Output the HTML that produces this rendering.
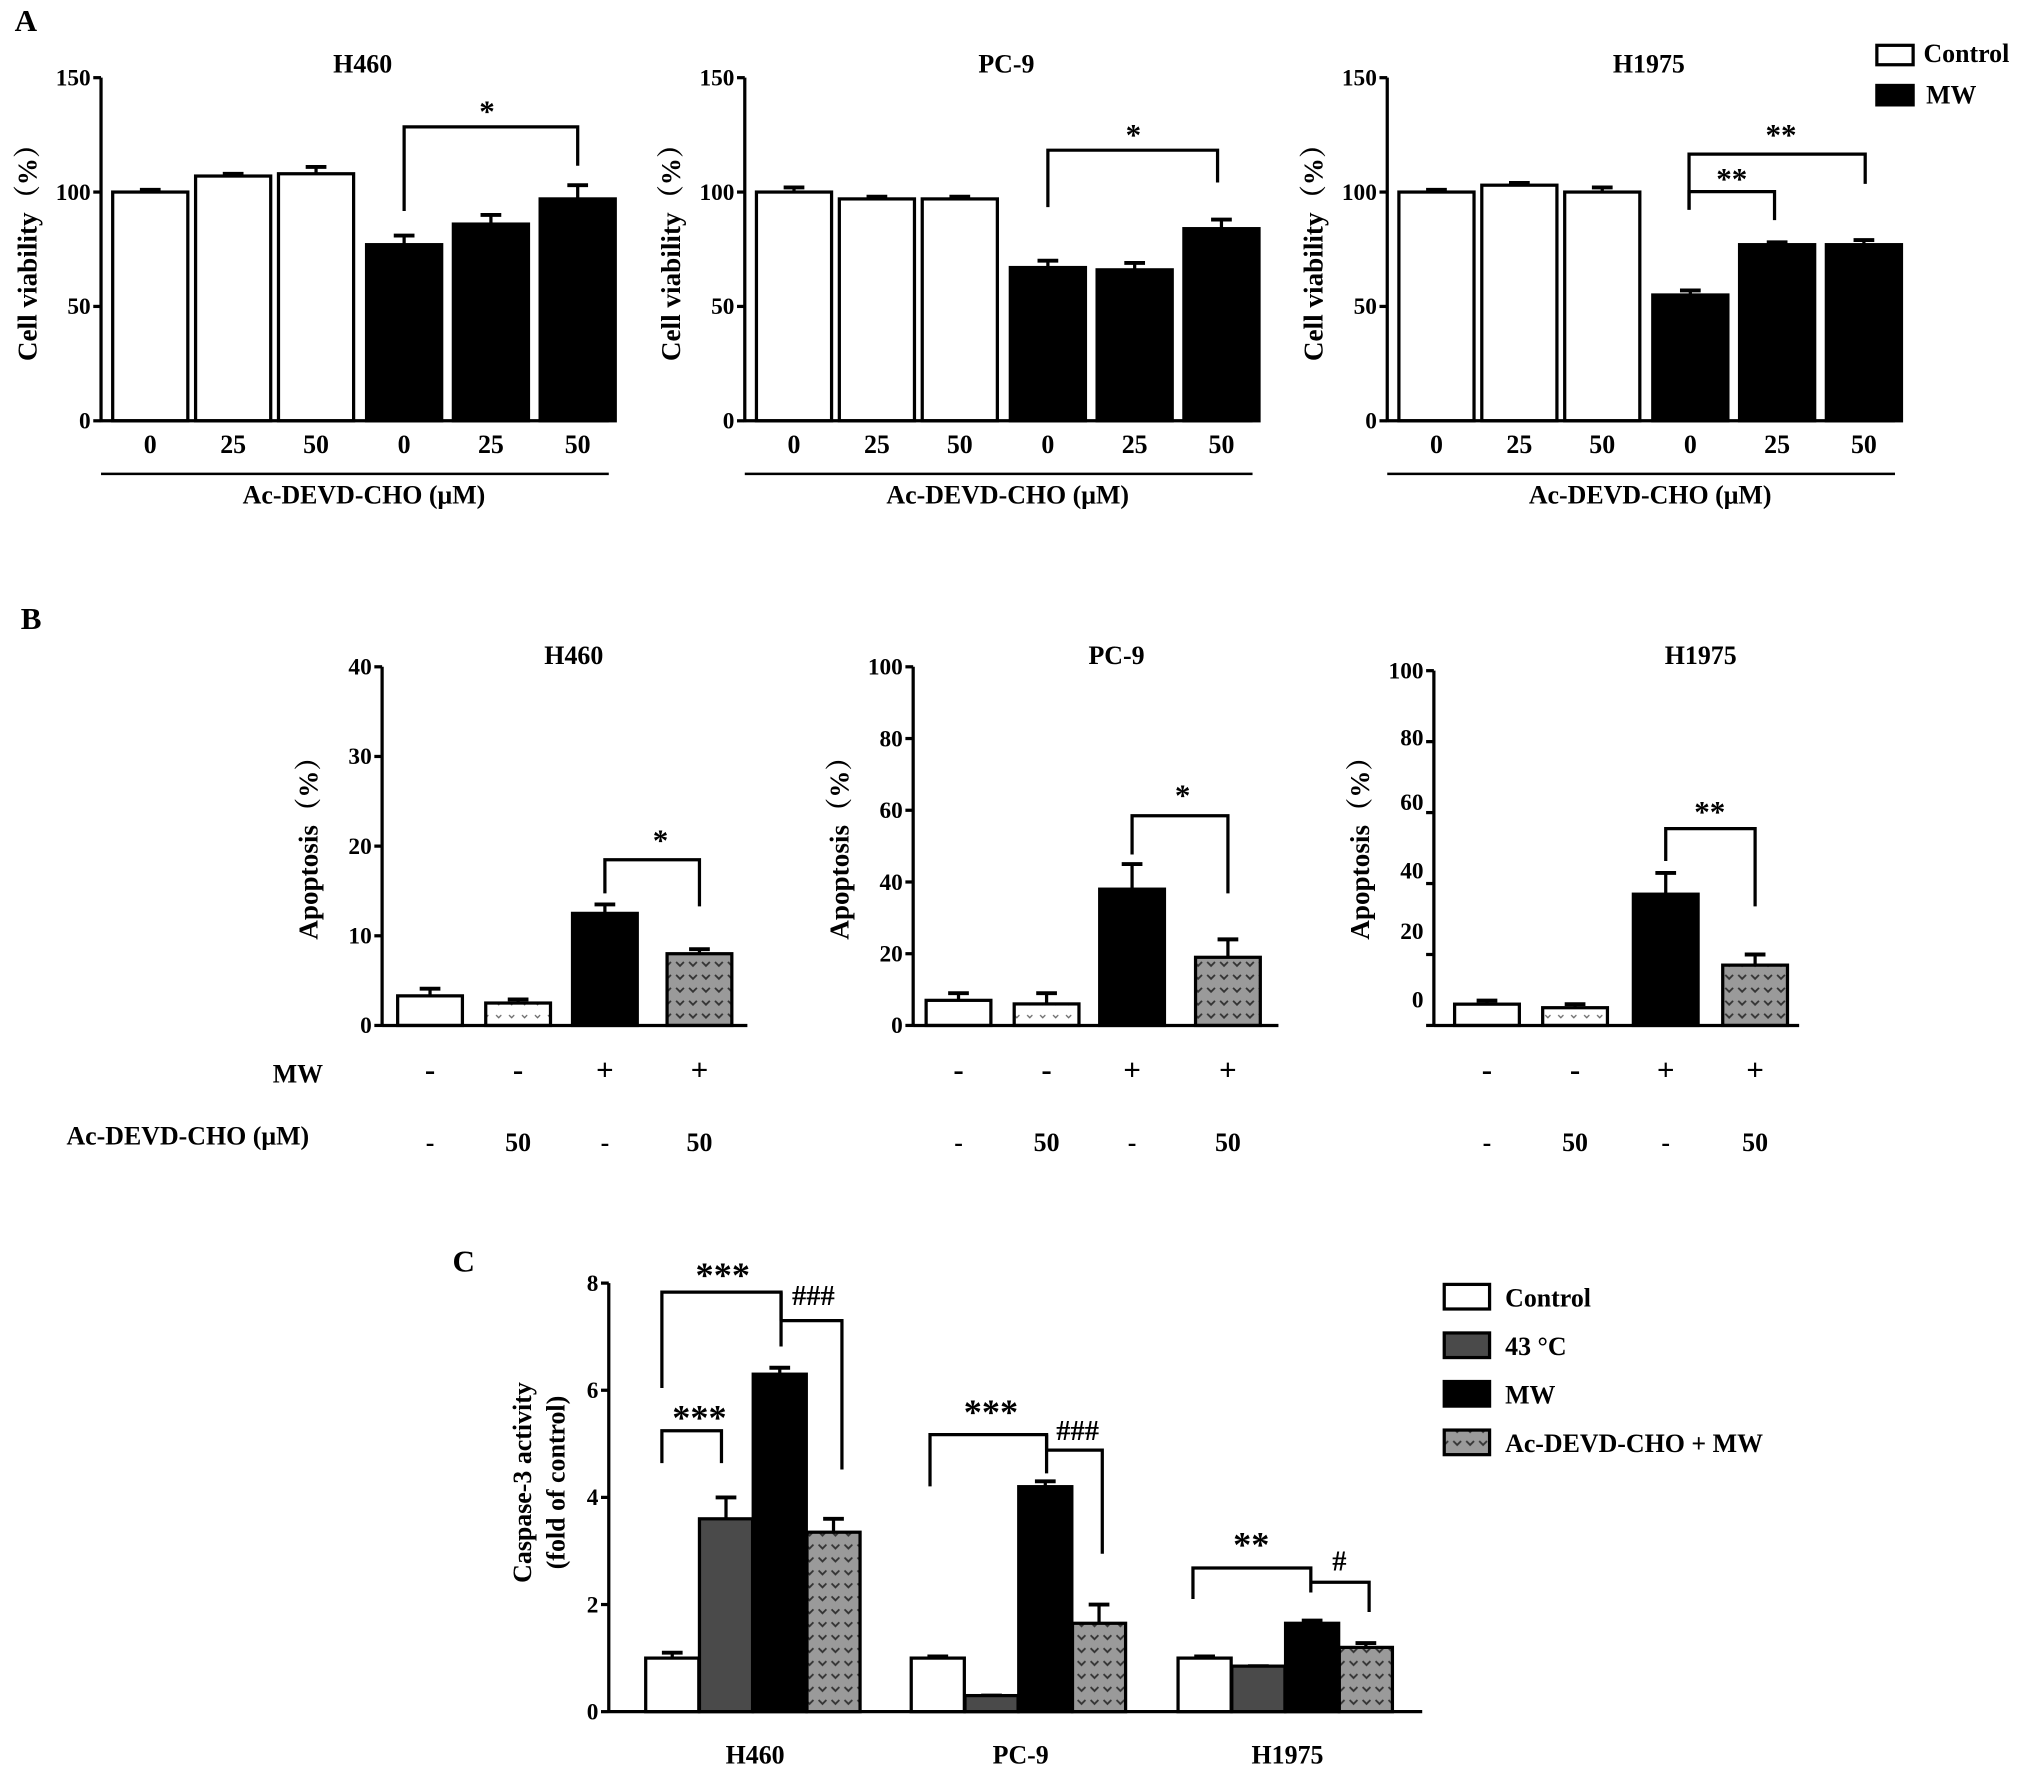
<!DOCTYPE html>
<html><head><meta charset="utf-8"><style>
html,body{margin:0;padding:0;background:#fff;}
svg{display:block;}
text{font-family:"Liberation Serif","Noto Serif CJK SC",serif;font-weight:bold;fill:#000;}
</style></head><body>
<svg id="fig" width="2031" height="1779" viewBox="0 0 1568 1374" preserveAspectRatio="none" xmlns="http://www.w3.org/2000/svg">
<defs>
<pattern id="dots" width="10" height="10" patternUnits="userSpaceOnUse">
<rect width="10" height="10" fill="#9a9a9a"/>
<path d="M2 3 L5 6 L8 3" stroke="#333" stroke-width="1.4" fill="none"/>
</pattern>
<pattern id="wdots" width="10" height="10" patternUnits="userSpaceOnUse">
<rect width="10" height="10" fill="#fff"/>
<path d="M3 4 L5 6 L7 4" stroke="#666" stroke-width="1" fill="none"/>
</pattern>
</defs>
<g id="root"></g>
</svg>
<script>
// Panel A data
const aCats = ["0","25","50","0","25","50"];
const aH460 = [100,107,108,77,86,97];
const aH460Err = [1,1,3,4,4,6];
const aPC9 = [100,97,97,67,66,84];
const aPC9Err = [2,1,1,3,3,4];
const aH1975 = [100,103,100,55,77,77];
const aH1975Err = [1,1,2,2,1,2];
const aTicks = [0,50,100,150];
// Panel B data
const bMW = ["-","-","+","+"];
const bInh = ["-","50","-","50"];
const bH460 = [3.3,2.5,12.5,8];
const bH460Err = [0.8,0.4,1,0.5];
const bPC9 = [7,6,38,19];
const bPC9Err = [2,3,7,5];
const bH1975 = [6,5,37,17];
const bH1975Err = [1,1,6,3];
const bTicksH460 = [0,10,20,30,40];
const bTicksOther = [0,20,40,60,80,100];
// Panel C data
const cGroups = ["H460","PC-9","H1975"];
const cControl = [1.0,1.0,1.0];
const cControlErr = [0.1,0.03,0.03];
const c43 = [3.6,0.3,0.85];
const c43Err = [0.4,0,0];
const cMW = [6.3,4.2,1.65];
const cMWErr = [0.12,0.1,0.05];
const cInh = [3.35,1.65,1.2];
const cInhErr = [0.25,0.35,0.08];
const cTicks = [0,2,4,6,8];

const NS="http://www.w3.org/2000/svg";
const root=document.getElementById('root');
function el(tag,attrs,parent,txt){const e=document.createElementNS(NS,tag);for(const k in attrs)e.setAttribute(k,attrs[k]);if(txt!==undefined)e.textContent=txt;(parent||root).appendChild(e);return e;}
function line(x1,y1,x2,y2,g,w){return el('line',{x1,y1,x2,y2,stroke:'#000','stroke-width':w||2.5},g);}
function txt(x,y,s,size,g,anchor,rot){const a={x,y,'font-size':size,'text-anchor':anchor||'middle'};if(rot)a.transform=`rotate(-90 ${x} ${y})`;return el('text',a,g,s);}
function bracket(g,x1,y1,x2,y2,top){const p=el('path',{d:`M${x1} ${y1} L${x1} ${top} L${x2} ${top} L${x2} ${y2}`,fill:'none',stroke:'#000','stroke-width':2.5},g);}

function drawBars(g,x0,y0,ytop,vmax,centers,vals,errs,fills,bw){
  const ys=v=>y0-(v/vmax)*(y0-ytop);
  vals.forEach((v,i)=>{
    const cx=centers[i];
    const e1=el('line',{x1:cx,y1:ys(v),x2:cx,y2:ys(v+errs[i]),stroke:'#000','stroke-width':2.5},g);
    
    
    line(cx-8,ys(v+errs[i]),cx+8,ys(v+errs[i]),g,3);
    const r=el('rect',{x:cx-bw/2,y:ys(v),width:bw,height:y0-ys(v),fill:fills[i],stroke:'#000','stroke-width':2.5},g);
    
    
  });
  return ys;
}
function yAxis(g,x0,y0,ytop,vmax,ticks,size,labOff){
  line(x0,ytop,x0,y0+1,g,2.5);
  ticks.forEach((t,i)=>{const y=y0-(t/vmax)*(y0-ytop);line(x0-6,y,x0,y,g,2.5);
    const tt=txt(x0-8,y+6-(labOff?labOff[i]:0),String(t),size,g,'end');});
}

// ---------- Panel A ----------
txt(20,24,"A",24,root);
const aSets=[[aH460,aH460Err,"H460",0],[aPC9,aPC9Err,"PC-9",497],[aH1975,aH1975Err,"H1975",993]];
const aBase=[116,180,244,312,379,446];
aSets.forEach(([vals,errs,name,off],k)=>{
  const g=el('g',{},root);
  
  
  const x0=78+off,y0=325,yt=60;
  const centers=aBase.map(c=>c+off);
  drawBars(g,x0,y0,yt,150,centers,vals,errs,["#fff","#fff","#fff","#000","#000","#000"],58);
  yAxis(g,x0,y0,yt,150,aTicks,18);
  line(x0,y0,x0+392,y0,g,2.5);
  centers.forEach((c,i)=>{const t=txt(c,350,aCats[i],20,g);});
  line(x0,366,x0+392,366,g,2);
  const xt=txt(x0+203,389,"Ac-DEVD-CHO (μM)",20,g);
  const ti=txt(x0+202,56,name,20,g);
  const yl=txt(x0-50,190,"Cell viability（%）",21,g,'middle',true);
});
// A brackets
bracket(root,312,163,446,128,98);txt(376,94,"*",24);
bracket(root,809,160,940,141,116);txt(875,112,"*",24);
bracket(root,1304,162,1440,142,119);txt(1375,112,"**",24);
bracket(root,1304,162,1370,170,148);txt(1337,146,"**",24);
// A legend
const la=el('g',{},root);
el('rect',{x:1449,y:35,width:28,height:15,fill:'#fff',stroke:'#000','stroke-width':2.5},la);
txt(1485,48,"Control",20,la,'start');
el('rect',{x:1449,y:66,width:28,height:15,fill:'#000',stroke:'#000','stroke-width':2.5},la);
txt(1487,80,"MW",20,la,'start');

// ---------- Panel B ----------
txt(24,486,"B",24,root);
const bSets=[[bH460,bH460Err,"H460",295,515,40,bTicksH460,[332,400,467,540],443,null],
 [bPC9,bPC9Err,"PC-9",705,515,100,bTicksOther,[740,808,874,948],862,null],
 [bH1975,bH1975Err,"H1975",1107,518,100,bTicksOther,[1148,1216,1286,1355],1313,[20,18,10,8,3,0]]];
bSets.forEach(([vals,errs,name,x0,yt,vmax,ticks,centers,tx,labOff])=>{
  const g=el('g',{},root);
  
  
  const y0=792;
  drawBars(g,x0,y0,yt,vmax,centers,vals,errs,["#fff","url(#wdots)","#000","url(#dots)"],50);
  yAxis(g,x0,y0,yt,vmax,ticks,18,labOff);
  line(x0,y0,x0+282,y0,g,2.5);
  const ti=txt(tx,513,name,20,g);
  const yl=txt(x0-50,650,"Apoptosis（%）",21,g,'middle',true);
  centers.forEach((c,i)=>{txt(c,834,bMW[i],24,g);txt(c,889,bInh[i],20,g);});
});
txt(230,836,"MW",20,root);
txt(145,884,"Ac-DEVD-CHO (μM)",20,root);
bracket(root,467,690,540,700,664);txt(510,657,"*",24);
bracket(root,874,660,948,690,630);txt(913,622,"*",24);
bracket(root,1286,665,1355,700,640);txt(1320,635,"**",24);

// ---------- Panel C ----------
txt(358,982,"C",24,root);
const gc=el('g',{},root);
const cx0=470,cy0=1322,cyt=991;
const groupStart=[519,724,930];
const cSeries=[[cControl,cControlErr,"#fff"],[c43,c43Err,"#4a4a4a"],[cMW,cMWErr,"#000"],[cInh,cInhErr,"url(#dots)"]];
cGroups.forEach((name,gi)=>{
  const centers=cSeries.map((s,si)=>groupStart[gi]+si*41.5);
  drawBars(gc,cx0,cy0,cyt,8,centers,cSeries.map(s=>s[0][gi]),cSeries.map(s=>s[1][gi]),cSeries.map(s=>s[2]),41);
  const t=txt(groupStart[gi]+64,1362,name,20,gc);
});
yAxis(gc,cx0,cy0,cyt,8,cTicks,18);
line(cx0,cy0,1098,cy0,gc,2.5);
const ycl1=txt(410,1145,"Caspase-3 activity",20,gc,'middle',true);
txt(436,1145,"(fold of control)",20,gc,'middle',true);
bracket(root,511,1072,603,1040,998);txt(558,994,"***",28);
bracket(root,603,1020,650,1135,1020);line(603,998,603,1020,root);txt(628,1008,"###",22);
bracket(root,511,1130,557,1130,1105);txt(540,1104,"***",28);
bracket(root,718,1148,808,1138,1108);txt(765,1100,"***",28);
bracket(root,808,1120,851,1200,1120);line(808,1108,808,1120,root);txt(832,1112,"###",22);
bracket(root,921,1235,1012,1230,1211);txt(966,1202,"**",28);
bracket(root,1012,1222,1057,1245,1222);txt(1034,1213,"#",22);
// C legend
const lc=el('g',{},root);
const cLegend=[["Control","#fff"],["43 °C","#4a4a4a"],["MW","#000"],["Ac-DEVD-CHO + MW","url(#dots)"]];
cLegend.forEach(([n,f],i)=>{const y=992+i*37.5;
  const r=el('rect',{x:1115,y:y,width:35,height:19,fill:f,stroke:'#000','stroke-width':2.5},lc);
  
  
  txt(1162,y+17,n,20,lc,'start');});
</script>
</body></html>
